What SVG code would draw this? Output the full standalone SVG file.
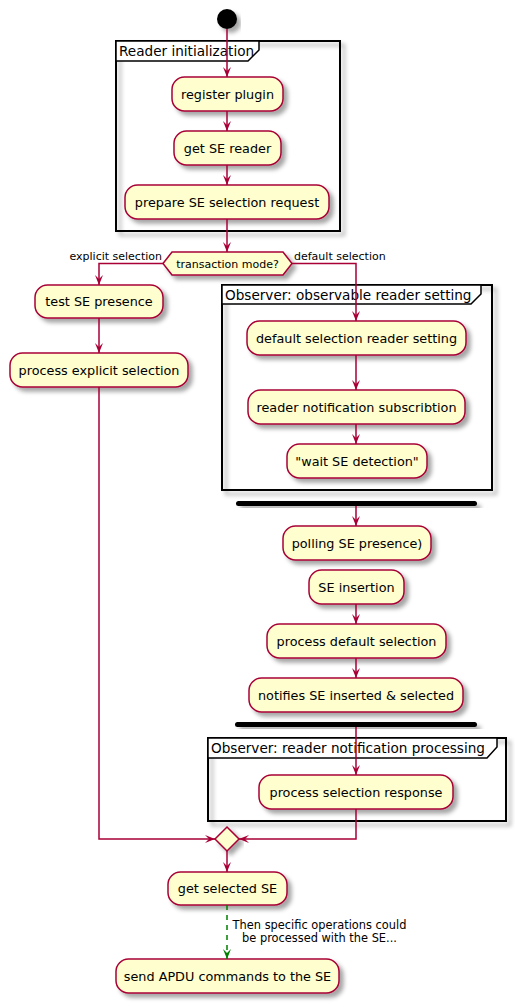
<svg xmlns="http://www.w3.org/2000/svg" width="515" height="1003" viewBox="0 0 515 1003">
<defs>
<filter id="sh" x="-20%" y="-20%" width="140%" height="160%">
<feDropShadow dx="4" dy="4" stdDeviation="2" flood-color="#000" flood-opacity="0.35"/>
</filter>
<marker id="ar" viewBox="0 0 10 8" markerWidth="10" markerHeight="8" refX="10" refY="4" orient="auto" markerUnits="userSpaceOnUse">
<path d="M0,0 L10,4 L0,8 L4,4 Z" fill="#A80036"/>
</marker>
<marker id="ag" viewBox="0 0 10 8" markerWidth="10" markerHeight="8" refX="10" refY="4" orient="auto" markerUnits="userSpaceOnUse">
<path d="M0,0 L10,4 L0,8 L4,4 Z" fill="#008000"/>
</marker>
</defs>
<style>
.act{fill:#FEFECE;stroke:#A80036;stroke-width:1.5;filter:url(#sh)}
.t{font-family:"DejaVu Sans","Liberation Sans",sans-serif;font-size:12.8px;fill:#000;text-anchor:middle}
.lbl{font-family:"DejaVu Sans","Liberation Sans",sans-serif;font-size:11px;fill:#000}
.lb2{font-family:"DejaVu Sans","Liberation Sans",sans-serif;font-size:11.4px;fill:#000;text-anchor:middle}
.pt{font-family:"DejaVu Sans","Liberation Sans",sans-serif;font-size:13.6px;fill:#000}
.part{fill:none;stroke:#000;stroke-width:2;filter:url(#sh)}
.tab{fill:#fff;stroke:#000;stroke-width:1.5}
.c{fill:none;stroke:#A80036;stroke-width:1.5;marker-end:url(#ar)}
.cg{fill:none;stroke:#008000;stroke-width:1.5;stroke-dasharray:5,5;marker-end:url(#ag)}
.bar{fill:#000;filter:url(#sh)}
</style>

<g id="partitions">
<g id="p1">
<rect class="part" x="116" y="41" width="224" height="190"/>
<path class="tab" d="M116,41 H259 V50 L248,61 H116 Z"/>
<text class="pt" x="119" y="56">Reader initialization</text>
</g>
<g id="p2">
<rect class="part" x="222" y="285" width="270" height="205"/>
<path class="tab" d="M222,285 H481 V294 L471,304 H222 Z"/>
<text class="pt" x="225" y="300">Observer: observable reader setting</text>
</g>
<g id="p3">
<rect class="part" x="208" y="738" width="298" height="83"/>
<path class="tab" d="M208,738 H497 V747 L487,758 H208 Z"/>
<text class="pt" x="211" y="753">Observer: reader notification processing</text>
</g>
</g>

<g id="start"><circle cx="227" cy="19" r="10" fill="#000" filter="url(#sh)"/></g>

<g id="n1"><rect class="act" x="172" y="77" width="111" height="34" rx="12.5"/><text class="t" x="227.5" y="98.5">register plugin</text></g>
<g id="n2"><rect class="act" x="174" y="131" width="107" height="34" rx="12.5"/><text class="t" x="227.5" y="152.5">get SE reader</text></g>
<g id="n3"><rect class="act" x="125" y="185" width="204" height="34" rx="12.5"/><text class="t" x="227" y="206.5">prepare SE selection request</text></g>

<g id="d1"><polygon class="act" points="163,263.5 172,252 283,252 292,263.5 283,275 172,275"/><text class="lbl" x="227.5" y="267.5" text-anchor="middle">transaction mode?</text></g>

<g id="n4"><rect class="act" x="35" y="285" width="128" height="33" rx="12.5"/><text class="t" x="99" y="306">test SE presence</text></g>
<g id="n5"><rect class="act" x="10" y="353" width="178" height="34" rx="12.5"/><text class="t" x="99" y="374.5">process explicit selection</text></g>

<g id="n6"><rect class="act" x="247" y="321" width="219" height="34" rx="12.5"/><text class="t" x="356.5" y="342.5">default selection reader setting</text></g>
<g id="n7"><rect class="act" x="248" y="390" width="217" height="34" rx="12.5"/><text class="t" x="356.5" y="411.5">reader notification subscribtion</text></g>
<g id="n8"><rect class="act" x="287" y="444" width="140" height="34" rx="12.5"/><text class="t" x="357" y="465.5">"wait SE detection"</text></g>

<g id="fork1"><rect class="bar" x="236" y="501" width="241" height="5" rx="2.5"/></g>

<g id="n9"><rect class="act" x="283" y="526" width="148" height="34" rx="12.5"/><text class="t" x="357" y="547.5">polling SE presence)</text></g>
<g id="n10"><rect class="act" x="309" y="570" width="95" height="34" rx="12.5"/><text class="t" x="356.5" y="591.5">SE insertion</text></g>
<g id="n11"><rect class="act" x="267" y="624" width="179" height="34" rx="12.5"/><text class="t" x="356.5" y="645.5">process default selection</text></g>
<g id="n12"><rect class="act" x="249" y="678" width="214" height="34" rx="12.5"/><text class="t" x="356" y="699.5">notifies SE inserted &amp; selected</text></g>

<g id="fork2"><rect class="bar" x="235" y="722" width="242" height="5" rx="2.5"/></g>

<g id="n13"><rect class="act" x="259" y="775" width="194" height="34" rx="12.5"/><text class="t" x="356" y="796.5">process selection response</text></g>

<g id="merge"><polygon class="act" points="227,827 239,839 227,851 215,839"/></g>

<g id="n14"><rect class="act" x="168" y="872" width="119" height="33" rx="12.5"/><text class="t" x="227.5" y="893">get selected SE</text></g>
<g id="n15"><rect class="act" x="116" y="959" width="223" height="34" rx="12.5"/><text class="t" x="227.5" y="980.5">send APDU commands to the SE</text></g>

<g id="connectors">
<path class="c" d="M227,29 V77"/>
<path class="c" d="M227,111 V131"/>
<path class="c" d="M227,165 V185"/>
<path class="c" d="M227,219 V252"/>
<path class="c" d="M163,263.5 H99 V285"/>
<path class="c" d="M99,318 V353"/>
<path class="c" d="M292,263.5 H356 V321"/>
<path class="c" d="M356,355 V390"/>
<path class="c" d="M356,424 V444"/>
<path class="c" d="M356,506 V526"/>
<path class="c" d="M356,604 V624"/>
<path class="c" d="M356,658 V678"/>
<path class="c" d="M356,727 V775"/>
<path class="c" d="M356,809 V839 H239"/>
<path class="c" d="M99,387 V839 H215"/>
<path class="c" d="M227,851 V872"/>
<path class="cg" d="M227,905 V959"/>
<text class="lbl" x="162" y="260" text-anchor="end">explicit selection</text>
<text class="lbl" x="294" y="260">default selection</text>
<text class="lb2" x="319.5" y="929">Then specific operations could</text>
<text class="lb2" x="319.5" y="942">be processed with the SE...</text>
</g>
</svg>
